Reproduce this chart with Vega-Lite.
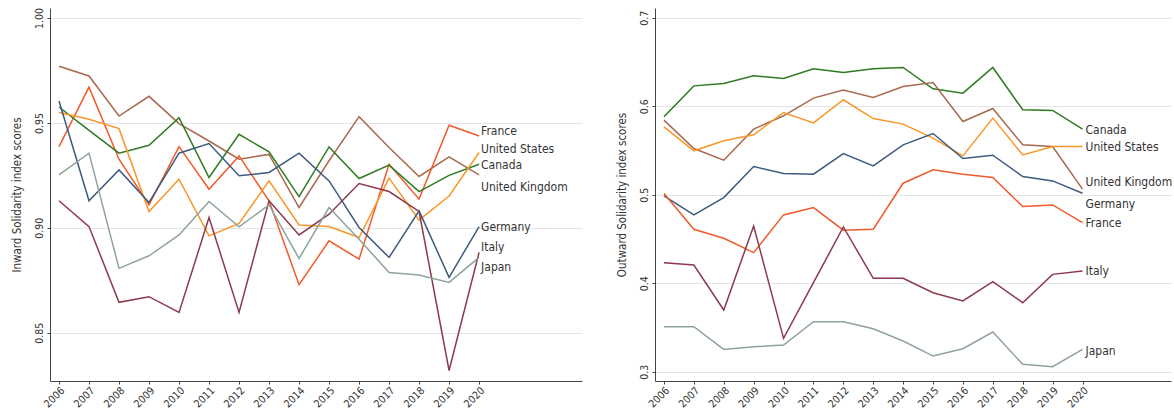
{
  "$schema": "https://vega.github.io/schema/vega-lite/v6.json",
  "padding": {"left": 11, "top": 7, "right": 0, "bottom": 0},
  "background": "white",
  "spacing": 73,
  "bounds": "flush",
  "config": {
    "font": "DejaVu Sans Condensed",
    "view": {"stroke": null},
    "axis": {
      "labelFont": "DejaVu Sans Condensed",
      "titleFont": "DejaVu Sans Condensed",
      "labelFontSize": 10.5,
      "titleFontSize": 11.5,
      "titleFontWeight": "normal",
      "labelColor": "#333333",
      "titleColor": "#333333",
      "domainColor": "#444444",
      "tickColor": "#444444",
      "gridColor": "#e4e4e4",
      "tickSize": 3,
      "labelOverlap": false
    }
  },
  "datasets": {
    "inward": [
      {"country": "United Kingdom", "year": 2006, "value": 0.977},
      {"country": "United Kingdom", "year": 2007, "value": 0.9724},
      {"country": "United Kingdom", "year": 2008, "value": 0.9533},
      {"country": "United Kingdom", "year": 2009, "value": 0.9627},
      {"country": "United Kingdom", "year": 2010, "value": 0.9497},
      {"country": "United Kingdom", "year": 2011, "value": 0.9414},
      {"country": "United Kingdom", "year": 2012, "value": 0.9327},
      {"country": "United Kingdom", "year": 2013, "value": 0.935},
      {"country": "United Kingdom", "year": 2014, "value": 0.9097},
      {"country": "United Kingdom", "year": 2015, "value": 0.932},
      {"country": "United Kingdom", "year": 2016, "value": 0.953},
      {"country": "United Kingdom", "year": 2017, "value": 0.9383},
      {"country": "United Kingdom", "year": 2018, "value": 0.9245},
      {"country": "United Kingdom", "year": 2019, "value": 0.9338},
      {"country": "United Kingdom", "year": 2020, "value": 0.9253},
      {"country": "France", "year": 2006, "value": 0.9387},
      {"country": "France", "year": 2007, "value": 0.9671},
      {"country": "France", "year": 2008, "value": 0.9327},
      {"country": "France", "year": 2009, "value": 0.911},
      {"country": "France", "year": 2010, "value": 0.9387},
      {"country": "France", "year": 2011, "value": 0.9184},
      {"country": "France", "year": 2012, "value": 0.9343},
      {"country": "France", "year": 2013, "value": 0.9129},
      {"country": "France", "year": 2014, "value": 0.8729},
      {"country": "France", "year": 2015, "value": 0.8938},
      {"country": "France", "year": 2016, "value": 0.8851},
      {"country": "France", "year": 2017, "value": 0.9303},
      {"country": "France", "year": 2018, "value": 0.9137},
      {"country": "France", "year": 2019, "value": 0.9489},
      {"country": "France", "year": 2020, "value": 0.9438},
      {"country": "Canada", "year": 2006, "value": 0.9576},
      {"country": "Canada", "year": 2007, "value": 0.9465},
      {"country": "Canada", "year": 2008, "value": 0.9356},
      {"country": "Canada", "year": 2009, "value": 0.9394},
      {"country": "Canada", "year": 2010, "value": 0.9525},
      {"country": "Canada", "year": 2011, "value": 0.924},
      {"country": "Canada", "year": 2012, "value": 0.9446},
      {"country": "Canada", "year": 2013, "value": 0.9362},
      {"country": "Canada", "year": 2014, "value": 0.9149},
      {"country": "Canada", "year": 2015, "value": 0.9386},
      {"country": "Canada", "year": 2016, "value": 0.9235},
      {"country": "Canada", "year": 2017, "value": 0.9299},
      {"country": "Canada", "year": 2018, "value": 0.9173},
      {"country": "Canada", "year": 2019, "value": 0.925},
      {"country": "Canada", "year": 2020, "value": 0.9303},
      {"country": "United States", "year": 2006, "value": 0.955},
      {"country": "United States", "year": 2007, "value": 0.9518},
      {"country": "United States", "year": 2008, "value": 0.9473},
      {"country": "United States", "year": 2009, "value": 0.9078},
      {"country": "United States", "year": 2010, "value": 0.9232},
      {"country": "United States", "year": 2011, "value": 0.8962},
      {"country": "United States", "year": 2012, "value": 0.9021},
      {"country": "United States", "year": 2013, "value": 0.9224},
      {"country": "United States", "year": 2014, "value": 0.9014},
      {"country": "United States", "year": 2015, "value": 0.9006},
      {"country": "United States", "year": 2016, "value": 0.8954},
      {"country": "United States", "year": 2017, "value": 0.9237},
      {"country": "United States", "year": 2018, "value": 0.9037},
      {"country": "United States", "year": 2019, "value": 0.9152},
      {"country": "United States", "year": 2020, "value": 0.9359},
      {"country": "Germany", "year": 2006, "value": 0.9605},
      {"country": "Germany", "year": 2007, "value": 0.9129},
      {"country": "Germany", "year": 2008, "value": 0.9276},
      {"country": "Germany", "year": 2009, "value": 0.9121},
      {"country": "Germany", "year": 2010, "value": 0.9356},
      {"country": "Germany", "year": 2011, "value": 0.9402},
      {"country": "Germany", "year": 2012, "value": 0.9248},
      {"country": "Germany", "year": 2013, "value": 0.9264},
      {"country": "Germany", "year": 2014, "value": 0.9356},
      {"country": "Germany", "year": 2015, "value": 0.9224},
      {"country": "Germany", "year": 2016, "value": 0.9002},
      {"country": "Germany", "year": 2017, "value": 0.8859},
      {"country": "Germany", "year": 2018, "value": 0.9081},
      {"country": "Germany", "year": 2019, "value": 0.8764},
      {"country": "Germany", "year": 2020, "value": 0.9006},
      {"country": "Italy", "year": 2006, "value": 0.9129},
      {"country": "Italy", "year": 2007, "value": 0.9006},
      {"country": "Italy", "year": 2008, "value": 0.8645},
      {"country": "Italy", "year": 2009, "value": 0.8672},
      {"country": "Italy", "year": 2010, "value": 0.8597},
      {"country": "Italy", "year": 2011, "value": 0.9049},
      {"country": "Italy", "year": 2012, "value": 0.8597},
      {"country": "Italy", "year": 2013, "value": 0.9129},
      {"country": "Italy", "year": 2014, "value": 0.8966},
      {"country": "Italy", "year": 2015, "value": 0.9065},
      {"country": "Italy", "year": 2016, "value": 0.9211},
      {"country": "Italy", "year": 2017, "value": 0.9173},
      {"country": "Italy", "year": 2018, "value": 0.9078},
      {"country": "Italy", "year": 2019, "value": 0.832},
      {"country": "Italy", "year": 2020, "value": 0.8883},
      {"country": "Japan", "year": 2006, "value": 0.9253},
      {"country": "Japan", "year": 2007, "value": 0.9356},
      {"country": "Japan", "year": 2008, "value": 0.8807},
      {"country": "Japan", "year": 2009, "value": 0.8867},
      {"country": "Japan", "year": 2010, "value": 0.8966},
      {"country": "Japan", "year": 2011, "value": 0.9126},
      {"country": "Japan", "year": 2012, "value": 0.9005},
      {"country": "Japan", "year": 2013, "value": 0.911},
      {"country": "Japan", "year": 2014, "value": 0.8854},
      {"country": "Japan", "year": 2015, "value": 0.9097},
      {"country": "Japan", "year": 2016, "value": 0.8946},
      {"country": "Japan", "year": 2017, "value": 0.8787},
      {"country": "Japan", "year": 2018, "value": 0.8775},
      {"country": "Japan", "year": 2019, "value": 0.874},
      {"country": "Japan", "year": 2020, "value": 0.8859}
    ],
    "inwardLabels": [
      {"country": "France", "year": 2020, "labelValue": 0.9462},
      {"country": "United States", "year": 2020, "labelValue": 0.9376},
      {"country": "Canada", "year": 2020, "labelValue": 0.930},
      {"country": "United Kingdom", "year": 2020, "labelValue": 0.9195},
      {"country": "Germany", "year": 2020, "labelValue": 0.9005},
      {"country": "Italy", "year": 2020, "labelValue": 0.891},
      {"country": "Japan", "year": 2020, "labelValue": 0.8814}
    ],
    "outward": [
      {"country": "Canada", "year": 2006, "value": 0.588},
      {"country": "Canada", "year": 2007, "value": 0.623},
      {"country": "Canada", "year": 2008, "value": 0.6257},
      {"country": "Canada", "year": 2009, "value": 0.6344},
      {"country": "Canada", "year": 2010, "value": 0.6314},
      {"country": "Canada", "year": 2011, "value": 0.6423},
      {"country": "Canada", "year": 2012, "value": 0.6381},
      {"country": "Canada", "year": 2013, "value": 0.6423},
      {"country": "Canada", "year": 2014, "value": 0.6438},
      {"country": "Canada", "year": 2015, "value": 0.6197},
      {"country": "Canada", "year": 2016, "value": 0.6148},
      {"country": "Canada", "year": 2017, "value": 0.6438},
      {"country": "Canada", "year": 2018, "value": 0.596},
      {"country": "Canada", "year": 2019, "value": 0.5952},
      {"country": "Canada", "year": 2020, "value": 0.5741},
      {"country": "United Kingdom", "year": 2006, "value": 0.5843},
      {"country": "United Kingdom", "year": 2007, "value": 0.5522},
      {"country": "United Kingdom", "year": 2008, "value": 0.539},
      {"country": "United Kingdom", "year": 2009, "value": 0.5741},
      {"country": "United Kingdom", "year": 2010, "value": 0.5892},
      {"country": "United Kingdom", "year": 2011, "value": 0.6092},
      {"country": "United Kingdom", "year": 2012, "value": 0.6182},
      {"country": "United Kingdom", "year": 2013, "value": 0.6099},
      {"country": "United Kingdom", "year": 2014, "value": 0.6223},
      {"country": "United Kingdom", "year": 2015, "value": 0.6268},
      {"country": "United Kingdom", "year": 2016, "value": 0.5827},
      {"country": "United Kingdom", "year": 2017, "value": 0.5974},
      {"country": "United Kingdom", "year": 2018, "value": 0.5564},
      {"country": "United Kingdom", "year": 2019, "value": 0.5545},
      {"country": "United Kingdom", "year": 2020, "value": 0.5063},
      {"country": "United States", "year": 2006, "value": 0.5767},
      {"country": "United States", "year": 2007, "value": 0.5496},
      {"country": "United States", "year": 2008, "value": 0.5609},
      {"country": "United States", "year": 2009, "value": 0.5677},
      {"country": "United States", "year": 2010, "value": 0.5929},
      {"country": "United States", "year": 2011, "value": 0.5812},
      {"country": "United States", "year": 2012, "value": 0.6073},
      {"country": "United States", "year": 2013, "value": 0.5861},
      {"country": "United States", "year": 2014, "value": 0.5798},
      {"country": "United States", "year": 2015, "value": 0.5639},
      {"country": "United States", "year": 2016, "value": 0.5439},
      {"country": "United States", "year": 2017, "value": 0.5866},
      {"country": "United States", "year": 2018, "value": 0.545},
      {"country": "United States", "year": 2019, "value": 0.5545},
      {"country": "United States", "year": 2020, "value": 0.5545},
      {"country": "Germany", "year": 2006, "value": 0.4987},
      {"country": "Germany", "year": 2007, "value": 0.4772},
      {"country": "Germany", "year": 2008, "value": 0.4968},
      {"country": "Germany", "year": 2009, "value": 0.5318},
      {"country": "Germany", "year": 2010, "value": 0.5239},
      {"country": "Germany", "year": 2011, "value": 0.5232},
      {"country": "Germany", "year": 2012, "value": 0.5465},
      {"country": "Germany", "year": 2013, "value": 0.5326},
      {"country": "Germany", "year": 2014, "value": 0.5564},
      {"country": "Germany", "year": 2015, "value": 0.5692},
      {"country": "Germany", "year": 2016, "value": 0.5409},
      {"country": "Germany", "year": 2017, "value": 0.5447},
      {"country": "Germany", "year": 2018, "value": 0.5205},
      {"country": "Germany", "year": 2019, "value": 0.5156},
      {"country": "Germany", "year": 2020, "value": 0.5017},
      {"country": "France", "year": 2006, "value": 0.5013},
      {"country": "France", "year": 2007, "value": 0.461},
      {"country": "France", "year": 2008, "value": 0.4508},
      {"country": "France", "year": 2009, "value": 0.4346},
      {"country": "France", "year": 2010, "value": 0.4772},
      {"country": "France", "year": 2011, "value": 0.4855},
      {"country": "France", "year": 2012, "value": 0.4599},
      {"country": "France", "year": 2013, "value": 0.461},
      {"country": "France", "year": 2014, "value": 0.513},
      {"country": "France", "year": 2015, "value": 0.5281},
      {"country": "France", "year": 2016, "value": 0.5232},
      {"country": "France", "year": 2017, "value": 0.5194},
      {"country": "France", "year": 2018, "value": 0.4866},
      {"country": "France", "year": 2019, "value": 0.4885},
      {"country": "France", "year": 2020, "value": 0.4685},
      {"country": "Italy", "year": 2006, "value": 0.4232},
      {"country": "Italy", "year": 2007, "value": 0.4206},
      {"country": "Italy", "year": 2008, "value": 0.3697},
      {"country": "Italy", "year": 2009, "value": 0.4647},
      {"country": "Italy", "year": 2010, "value": 0.3377},
      {"country": "Italy", "year": 2011, "value": 0.4006},
      {"country": "Italy", "year": 2012, "value": 0.4636},
      {"country": "Italy", "year": 2013, "value": 0.4055},
      {"country": "Italy", "year": 2014, "value": 0.4055},
      {"country": "Italy", "year": 2015, "value": 0.3893},
      {"country": "Italy", "year": 2016, "value": 0.38},
      {"country": "Italy", "year": 2017, "value": 0.4018},
      {"country": "Italy", "year": 2018, "value": 0.378},
      {"country": "Italy", "year": 2019, "value": 0.41},
      {"country": "Italy", "year": 2020, "value": 0.4139},
      {"country": "Japan", "year": 2006, "value": 0.3509},
      {"country": "Japan", "year": 2007, "value": 0.3509},
      {"country": "Japan", "year": 2008, "value": 0.3252},
      {"country": "Japan", "year": 2009, "value": 0.3282},
      {"country": "Japan", "year": 2010, "value": 0.3301},
      {"country": "Japan", "year": 2011, "value": 0.3565},
      {"country": "Japan", "year": 2012, "value": 0.3565},
      {"country": "Japan", "year": 2013, "value": 0.3486},
      {"country": "Japan", "year": 2014, "value": 0.3347},
      {"country": "Japan", "year": 2015, "value": 0.3177},
      {"country": "Japan", "year": 2016, "value": 0.326},
      {"country": "Japan", "year": 2017, "value": 0.3449},
      {"country": "Japan", "year": 2018, "value": 0.3083},
      {"country": "Japan", "year": 2019, "value": 0.3056},
      {"country": "Japan", "year": 2020, "value": 0.3252}
    ],
    "outwardLabels": [
      {"country": "Canada", "year": 2020, "labelValue": 0.5737},
      {"country": "United States", "year": 2020, "labelValue": 0.5541},
      {"country": "United Kingdom", "year": 2020, "labelValue": 0.5145},
      {"country": "Germany", "year": 2020, "labelValue": 0.4896},
      {"country": "France", "year": 2020, "labelValue": 0.4685},
      {"country": "Italy", "year": 2020, "labelValue": 0.4139},
      {"country": "Japan", "year": 2020, "labelValue": 0.3237}
    ]
  },
  "hconcat": [
    {
      "width": 532,
      "height": 373,
      "layer": [
        {
          "data": {"name": "inward"},
          "mark": {"type": "line", "strokeWidth": 1.5},
          "encoding": {
            "x": {
              "field": "year", "type": "quantitative",
              "scale": {"domain": [2005.7, 2023.43], "nice": false, "zero": false},
              "axis": {
                "title": null, "values": [2006,2007,2008,2009,2010,2011,2012,2013,2014,2015,2016,2017,2018,2019,2020],
                "tickCount": 30,
                "format": "d", "labelAngle": -45, "grid": false, "labelPadding": 1, "labelOverlap": false
              }
            },
            "y": {
              "field": "value", "type": "quantitative",
              "scale": {"domain": [0.827, 1.0048], "nice": false, "zero": false},
              "axis": {
                "title": "Inward Solidarity index scores", "values": [0.85, 0.9, 0.95, 1.0],
                "format": ".2f", "labelAngle": -90, "grid": true, "titlePadding": 12, "labelPadding": 3
              }
            },
            "color": {
              "field": "country", "type": "nominal", "legend": null,
              "scale": {
                "domain": ["France", "United States", "Canada", "United Kingdom", "Germany", "Italy", "Japan"],
                "range": ["#f15a2b", "#f9962a", "#2f7a22", "#a8694e", "#3d5a80", "#8c3a4b", "#8ea39c"]
              }
            }
          }
        },
        {
          "data": {"name": "inwardLabels"},
          "mark": {"type": "text", "align": "left", "baseline": "middle", "dx": 2, "fontSize": 12, "color": "#333333", "font": "DejaVu Sans Condensed"},
          "encoding": {
            "x": {"field": "year", "type": "quantitative"},
            "y": {"field": "labelValue", "type": "quantitative"},
            "text": {"field": "country"}
          }
        }
      ]
    },
    {
      "width": 516,
      "height": 373,
      "layer": [
        {
          "data": {"name": "outward"},
          "mark": {"type": "line", "strokeWidth": 1.5},
          "encoding": {
            "x": {
              "field": "year", "type": "quantitative",
              "scale": {"domain": [2005.7, 2022.96], "nice": false, "zero": false},
              "axis": {
                "title": null, "values": [2006,2007,2008,2009,2010,2011,2012,2013,2014,2015,2016,2017,2018,2019,2020],
                "tickCount": 30,
                "format": "d", "labelAngle": -45, "grid": false, "labelPadding": 1, "labelOverlap": false
              }
            },
            "y": {
              "field": "value", "type": "quantitative",
              "scale": {"domain": [0.2895, 0.711], "nice": false, "zero": false},
              "axis": {
                "title": "Outward Solidarity index scores", "values": [0.3, 0.4, 0.5, 0.6, 0.7],
                "format": ".1f", "labelAngle": -90, "grid": true, "titlePadding": 12, "labelPadding": 3
              }
            },
            "color": {
              "field": "country", "type": "nominal", "legend": null,
              "scale": {
                "domain": ["France", "United States", "Canada", "United Kingdom", "Germany", "Italy", "Japan"],
                "range": ["#f15a2b", "#f9962a", "#2f7a22", "#a8694e", "#3d5a80", "#8c3a4b", "#8ea39c"]
              }
            }
          }
        },
        {
          "data": {"name": "outwardLabels"},
          "mark": {"type": "text", "align": "left", "baseline": "middle", "dx": 3, "fontSize": 12, "color": "#333333", "font": "DejaVu Sans Condensed"},
          "encoding": {
            "x": {"field": "year", "type": "quantitative"},
            "y": {"field": "labelValue", "type": "quantitative"},
            "text": {"field": "country"}
          }
        }
      ]
    }
  ]
}
